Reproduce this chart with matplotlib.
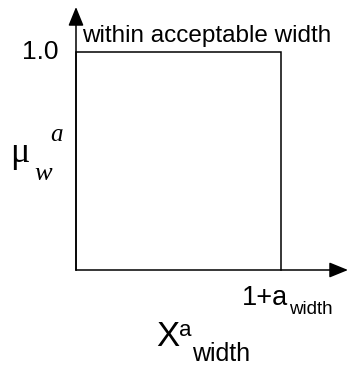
import matplotlib
matplotlib.use("Agg")
import matplotlib.pyplot as plt

# Crisp membership function: full membership up to the width threshold
x_threshold = 1.0      # position of 1+a_width
mu_max = 1.0           # membership level
step_x = [0.0, 0.0, x_threshold, x_threshold]
step_y = [0.0, mu_max, mu_max, 0.0]

W, H = 348, 366
fig = plt.figure(figsize=(W / 100, H / 100), dpi=100)

# axes: origin at pixel (76, 270), x=1 at pixel 281, y=1 at pixel 52
x0_px, y0_px = 76, 270
ux, uy = 281 - 76, 270 - 52
x_end_px, y_end_px = 348, 7
ax = fig.add_axes([x0_px / W, (H - y0_px) / H, (x_end_px - x0_px) / W, (y0_px - y_end_px) / H])
ax.set_xlim(0, (x_end_px - x0_px) / ux)
ax.set_ylim(0, (y0_px - y_end_px) / uy)
ax.axis("off")

lw = 1.1
ax.plot(step_x, step_y, color="black", lw=lw, solid_joinstyle="miter", clip_on=False)

# axis arrows
xmax = (x_end_px - x0_px) / ux
ymax = (y0_px - y_end_px) / uy
arrow = dict(arrowstyle="-|>,head_length=1.15,head_width=0.47", color="black", lw=lw,
             shrinkA=0, shrinkB=0, mutation_scale=10)
ax.annotate("", xy=(xmax, 0), xytext=(0, 0), arrowprops=arrow, annotation_clip=False)
ax.annotate("", xy=(0, ymax), xytext=(0, 0), arrowprops=arrow, annotation_clip=False)

sans = "Liberation Sans"
serif = "Liberation Serif"

def px(x, y):
    return x / W, 1 - y / H

fig.text(*px(59, 52), "1.0", fontfamily=sans, fontsize=19, ha="right", va="center")
fig.text(*px(82, 36), "within acceptable width", fontfamily=sans, fontsize=17.5,
         ha="left", va="center")

# y-axis label mu_w^a
fig.text(*px(10, 154), "μ", fontfamily=serif, fontsize=26, ha="left", va="center")
fig.text(*px(34, 174), "w", fontfamily=serif, fontstyle="italic", fontsize=19,
         ha="left", va="center")
fig.text(*px(50, 135), "a", fontfamily=serif, fontstyle="italic", fontsize=18,
         ha="left", va="center")

# threshold label 1+a_width
fig.text(*px(242, 298), "1+a", fontfamily=sans, fontsize=19.5, ha="left", va="center")
fig.text(*px(289, 309), "width", fontfamily=sans, fontsize=13.5, ha="left", va="center")

# x-axis label X^a_width
fig.text(*px(156, 336), "X", fontfamily=sans, fontsize=25, ha="left", va="center")
fig.text(*px(179, 331), "a", fontfamily=sans, fontsize=16, ha="left", va="center")
fig.text(*px(192, 354), "width", fontfamily=sans, fontsize=18, ha="left", va="center")

fig.savefig("out.png", dpi=100, facecolor="white")
